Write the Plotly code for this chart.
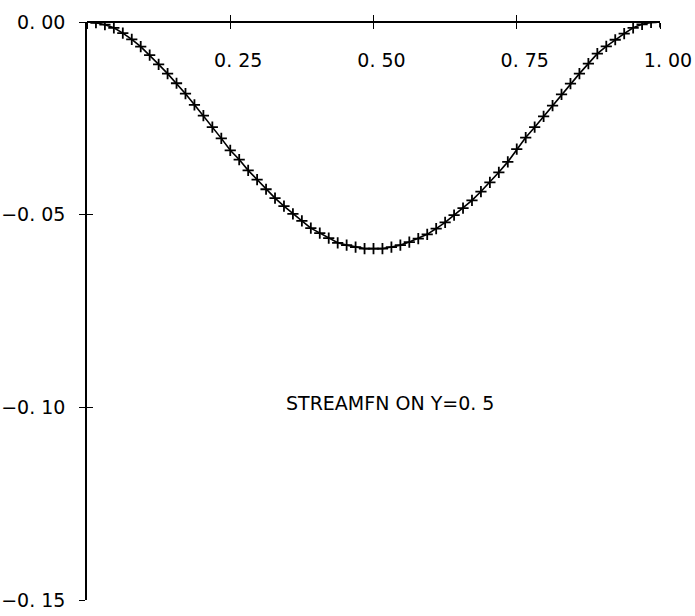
import plotly.graph_objects as go

# Stream function values sampled on y = 0.5 (x = i/64, i = 0..64)
x_vals = [i / 64 for i in range(65)]
psi_vals = [
    0.0, -0.0002, -0.0007, -0.0015, -0.0029, -0.0045, -0.0064, -0.0086,
    -0.0110, -0.0134, -0.0159, -0.0186, -0.0215, -0.0243, -0.0273, -0.0302,
    -0.0333, -0.0357, -0.0385, -0.0409, -0.0434, -0.0457, -0.0478, -0.0498,
    -0.0516, -0.0535, -0.0548, -0.0561, -0.0573, -0.0579, -0.0584, -0.0588,
    -0.0588, -0.0588, -0.0584, -0.0579, -0.0571, -0.0562, -0.0551, -0.0536,
    -0.0520, -0.0501, -0.0483, -0.0463, -0.0440, -0.0416, -0.0390, -0.0363,
    -0.0330, -0.0300, -0.0273, -0.0245, -0.0217, -0.0188, -0.0160, -0.0134,
    -0.0108, -0.0082, -0.0063, -0.0046, -0.0030, -0.0015, -0.0006, -0.0001,
    0.0,
]

x_tickvals = [0, 0.25, 0.5, 0.75, 1.0]
x_ticktext = ["", "0. 25", "0. 50", "0. 75", "1. 00"]
y_tickvals = [0, -0.05, -0.10, -0.15]
y_ticktext = ["0. 00", "\u22120. 05", "\u22120. 10", "\u22120. 15"]
title_text = "STREAMFN ON Y=0. 5"

FONT = "DejaVu Sans"
INK = "black"
FS = 19

fig = go.Figure()
fig.add_trace(go.Scatter(
    x=x_vals, y=psi_vals, mode="lines+markers",
    line=dict(color=INK, width=1.6),
    marker=dict(symbol="cross-thin", size=8, line=dict(color=INK, width=1.8)),
    showlegend=False, hoverinfo="skip",
))
# invisible trace on overlay axes so they render
fig.add_trace(go.Scatter(x=[0, 1], y=[0, -0.15], xaxis="x2", yaxis="y2",
                         mode="markers", marker=dict(opacity=0),
                         showlegend=False, hoverinfo="skip"))

common_x = dict(range=[0, 1], showgrid=False, zeroline=False,
                showline=True, linecolor=INK, linewidth=1.5, automargin=False,
                tickvals=x_tickvals, ticklen=6, tickwidth=1.3, tickcolor=INK,
                anchor="free", position=1, side="bottom")
common_y = dict(range=[-0.15, 0], showgrid=False, zeroline=False,
                showline=True, linecolor=INK, linewidth=1.5, automargin=False,
                tickvals=y_tickvals, ticklen=6, tickwidth=1.3, tickcolor=INK)

fig.update_layout(
    width=695, height=616,
    margin=dict(l=87, r=35, t=22, b=16, autoexpand=False),
    paper_bgcolor="white", plot_bgcolor="white",
    font=dict(family=FONT, color=INK, size=FS),
    xaxis=dict(**common_x, ticks="outside", ticktext=x_ticktext,
               tickfont=dict(family=FONT, size=FS, color=INK),
               ticklabelstandoff=15, ticklabelshift=8),
    xaxis2=dict(**common_x, ticks="inside", showticklabels=False,
                overlaying="x"),
    yaxis=dict(**common_y, ticks="outside", ticktext=y_ticktext,
               tickfont=dict(family=FONT, size=FS, color=INK),
               ticklabelstandoff=10),
    yaxis2=dict(**common_y, ticks="inside", showticklabels=False,
                overlaying="y", anchor="x"),
    annotations=[dict(x=0.529, y=-0.099, xref="x", yref="y", text=title_text,
                      showarrow=False,
                      font=dict(family=FONT, size=FS, color=INK))],
)

fig.write_html("out.html")
